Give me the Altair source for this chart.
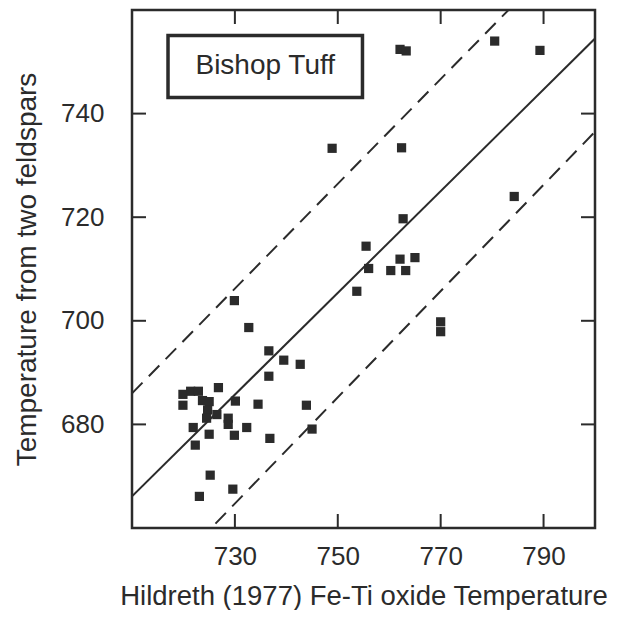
import altair as alt
import pandas as pd

# ---- data ----
x_oxide = [719.9, 721.4, 722.9, 719.9, 723.7, 725.0, 726.8, 730.1, 734.5, 743.9,
           724.7, 724.5, 726.5, 728.7, 728.7, 721.9, 725.0, 729.9, 732.3, 736.8,
           745.0, 722.3, 725.2, 729.6, 723.1, 729.9, 732.7, 736.6, 739.5, 742.7,
           736.6, 753.7, 748.9, 762.4, 762.7, 755.5, 756.0, 762.1, 765.0, 760.3,
           763.2, 770.0, 770.0, 762.1, 763.3, 780.5, 789.3, 784.3]
y_feld = [685.8, 686.4, 686.4, 683.7, 684.6, 684.4, 687.1, 684.5, 683.9, 683.7,
          682.8, 681.2, 681.9, 681.2, 680.0, 679.4, 678.1, 677.9, 679.4, 677.3,
          679.1, 676.0, 670.2, 667.5, 666.1, 703.9, 698.7, 694.2, 692.4, 691.6,
          689.3, 705.7, 733.3, 733.4, 719.7, 714.4, 710.1, 711.9, 712.2, 709.7,
          709.7, 699.8, 697.9, 752.4, 752.1, 754.0, 752.2, 724.0]

x_ticks = [730, 750, 770, 790]
y_ticks = [680, 700, 720, 740]

line_x = [710, 800]
solid_y = [666.1, 754.5]
upper_y = [686.0, 777.0]
lower_y = [644.2, 736.5]

label_text = ["Bishop Tuff"]
box_x1 = [717.0]
box_x2 = [754.8]
box_y1 = [743.1]
box_y2 = [755.1]
label_x = [735.9]
label_y = [749.1]

X_DOMAIN = [710, 800]
Y_DOMAIN = [660, 760]
W, H = 463, 518
INK = "#2b2b2b"
FONT = "Liberation Sans"

xs = alt.Scale(domain=X_DOMAIN, nice=False, zero=False)
ys = alt.Scale(domain=Y_DOMAIN, nice=False, zero=False)

pts = pd.DataFrame({"x": x_oxide, "y": y_feld})

x_axis = alt.Axis(values=x_ticks, ticks=False, tickSize=0, domain=False, grid=False,
                  labelFont=FONT, labelFontSize=26, labelColor=INK, labelPadding=15,
                  title="Hildreth (1977) Fe-Ti oxide Temperature",
                  titleFont=FONT, titleFontSize=27.5, titleFontWeight="normal",
                  titleColor=INK, titleBaseline="alphabetic", titleY=76)
y_axis = alt.Axis(values=y_ticks, ticks=False, tickSize=0, domain=False, grid=False,
                  labelFont=FONT, labelFontSize=26, labelColor=INK, labelPadding=28,
                  title="Temperature from two feldspars",
                  titleFont=FONT, titleFontSize=28, titleFontWeight="normal",
                  titleColor=INK, titleBaseline="alphabetic", titleX=-97)

points = alt.Chart(pts).mark_square(size=85, color=INK, opacity=1).encode(
    x=alt.X("x:Q", scale=xs, axis=x_axis),
    y=alt.Y("y:Q", scale=ys, axis=y_axis),
)

def ref_line(yvals, dash=None):
    df = pd.DataFrame({"x": line_x, "y": yvals})
    kw = dict(color=INK, strokeWidth=2, clip=True)
    if dash:
        kw["strokeDash"] = dash
    return alt.Chart(df).mark_line(**kw).encode(
        x=alt.X("x:Q", scale=xs), y=alt.Y("y:Q", scale=ys))

solid = ref_line(solid_y)
upper = ref_line(upper_y, [15, 9])
lower = ref_line(lower_y, [15, 9])

xt = pd.DataFrame({"v": x_ticks})
yt = pd.DataFrame({"v": y_ticks})
TL = 14
tick_style = dict(color=INK, strokeWidth=2)
bot_ticks = alt.Chart(xt).mark_rule(**tick_style).encode(
    x=alt.X("v:Q", scale=xs), y=alt.value(H), y2=alt.value(H - TL))
top_ticks = alt.Chart(xt).mark_rule(**tick_style).encode(
    x=alt.X("v:Q", scale=xs), y=alt.value(0), y2=alt.value(TL))
left_ticks = alt.Chart(yt).mark_rule(**tick_style).encode(
    y=alt.Y("v:Q", scale=ys), x=alt.value(0), x2=alt.value(TL))
right_ticks = alt.Chart(yt).mark_rule(**tick_style).encode(
    y=alt.Y("v:Q", scale=ys), x=alt.value(W), x2=alt.value(W - TL))

ann = pd.DataFrame({"x1": box_x1, "x2": box_x2, "y1": box_y1, "y2": box_y2,
                    "lx": label_x, "ly": label_y, "t": label_text})
box = alt.Chart(ann).mark_rect(fill="white", stroke=INK, strokeWidth=3.5).encode(
    x=alt.X("x1:Q", scale=xs), x2="x2:Q",
    y=alt.Y("y1:Q", scale=ys), y2="y2:Q")
label = alt.Chart(ann).mark_text(font=FONT, fontSize=28, color=INK,
                                 align="center", baseline="middle").encode(
    x=alt.X("lx:Q", scale=xs), y=alt.Y("ly:Q", scale=ys), text="t:N")

chart = alt.layer(
    solid, upper, lower, points, bot_ticks, top_ticks, left_ticks, right_ticks, box, label
).properties(
    width=W, height=H,
    background="white",
    autosize=alt.AutoSizeParams(type="none"),
    padding={"left": 124, "top": 2, "right": 17, "bottom": 82},
).configure_view(
    stroke=INK, strokeWidth=2.5
)

chart.save("out.html", embed_options={"renderer": "svg", "actions": False})
